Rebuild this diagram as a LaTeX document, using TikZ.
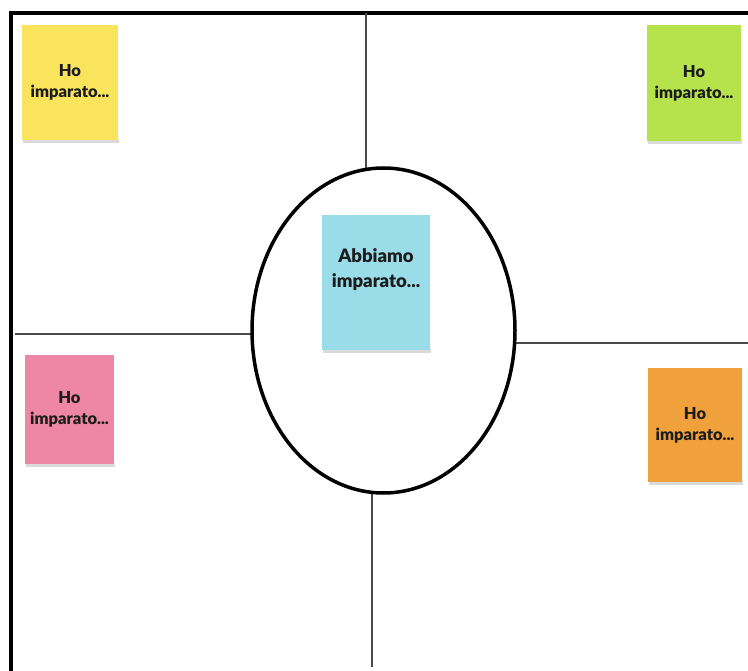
\documentclass[tikz,border=0pt]{standalone}
\usepackage{fontspec}
\setmainfont{Lato}[BoldFont={Lato Black}]
\usetikzlibrary{shapes.geometric}
\definecolor{noteyellow}{HTML}{F9E45C}
\definecolor{notegreen}{HTML}{B6E34C}
\definecolor{noteblue}{HTML}{9ADCE8}
\definecolor{notepink}{HTML}{EE86A6}
\definecolor{noteorange}{HTML}{F0A13C}
\definecolor{divider}{HTML}{4A4A4A}
\definecolor{notetext}{HTML}{1C1C1C}
\definecolor{noteshadow}{HTML}{DADADA}
\tikzset{
  note/.style={rectangle, inner sep=0pt, outer sep=0pt, align=center,
    text=notetext, font=\bfseries\fontsize{16.5}{21}\selectfont},
  shade/.style={fill=noteshadow},
  divline/.style={draw=divider, line width=2.4pt},
  frameline/.style={draw=black, line width=3.5pt},
  ring/.style={ellipse, draw=black, fill=white, line width=3.5pt, inner sep=0pt, outer sep=0pt,
    minimum width=263pt, minimum height=325pt}
}
\begin{document}
\begin{tikzpicture}[x=1pt,y=-1pt]
\useasboundingbox[fill=white] (0,0) rectangle (748,671);
% frame
\coordinate (fc) at (11,13);
\coordinate (fb) at (11,671);
\coordinate (fr) at (748,13);
\draw[frameline] (fb) -- (fc) -- (fr);
% divider end points
\coordinate (tt) at (366,13);
\coordinate (ll) at (15,334);
\coordinate (rr) at (748,343);
\coordinate (bb) at (372,667);
\coordinate (ec) at (383.5,330.5);
% dividers (run under the ellipse, which covers their inner ends)
\draw[divline] (tt) -- (tt |- ec);
\draw[divline] (ll) -- (ll -| ec);
\draw[divline] (rr) -- (rr -| ec);
\draw[divline] (bb) -- (bb |- ec);
% central ellipse
\node[ring] (e) at (ec) {};
% shadows
\fill[shade] (23,139) rectangle (119,143);
\fill[shade] (648,140) rectangle (742,144);
\fill[shade] (323,349) rectangle (431,353);
\fill[shade] (26,463) rectangle (115,467);
\fill[shade] (649,481) rectangle (743,485);
% sticky notes
\node[note, fill=noteyellow, minimum width=96pt, minimum height=115pt] (n1) at (70,82.5) {Ho\\imparato...};
\node[note, fill=notegreen, minimum width=94pt, minimum height=116pt] (n2) at (694,83) {Ho\\imparato...};
\node[note, fill=noteblue, minimum width=108pt, minimum height=135pt,
  font=\bfseries\fontsize{18.5}{25}\selectfont] (n3) at (376,282.5) {Abbiamo\\imparato...\\[4pt]};
\node[note, fill=notepink, minimum width=89pt, minimum height=109pt] (n4) at (69.5,409.5) {Ho\\imparato...};
\node[note, fill=noteorange, minimum width=94pt, minimum height=114pt] (n5) at (695,425) {Ho\\imparato...};
\end{tikzpicture}
\end{document}
